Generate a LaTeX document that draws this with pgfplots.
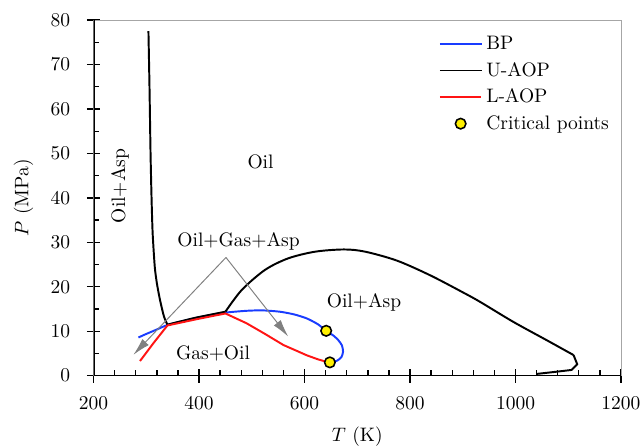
\documentclass[border=0pt]{standalone}
\usepackage{pgfplots}
\pgfplotsset{compat=1.18}
\usetikzlibrary{arrows.meta}
\definecolor{bpblue}{RGB}{25,60,255}
\definecolor{laopred}{RGB}{255,20,20}
\definecolor{cpyellow}{RGB}{255,240,0}
\begin{document}
\begin{tikzpicture}
\useasboundingbox (-48pt,-37pt) rectangle (282.3pt,192.7pt);
\begin{axis}[
  at={(0,0)}, anchor=south west,
  scale only axis, width=270.5pt, height=182.4pt,
  xmin=200, xmax=1200, ymin=0, ymax=80,
  xtick={200,400,...,1200}, ytick={0,10,...,80},
  minor x tick num=4, minor y tick num=1,
  xtick pos=bottom, ytick pos=left,
  tick align=center,
  major tick length=7pt, minor tick length=2.7pt,
  minor x tick style={yshift=1.35pt},
  minor y tick style={xshift=1.35pt},
  tick style={black, line width=0.7pt},
  axis line style={gray!70, line width=0.5pt},
  /pgf/number format/set thousands separator={},
  xticklabel style={yshift=-4pt},
  yticklabel style={xshift=-5pt},
  xlabel={$T$ (K)}, ylabel={$P$ (MPa)},
  every axis x label/.style={at={([yshift=-31pt]axis description cs:0.5,0)}, anchor=center},
  every axis y label/.style={at={([xshift=-36pt]axis description cs:0,0.5)}, rotate=90, anchor=center},
  legend style={draw=none, fill=none, at={(1,1)}, anchor=north east, xshift=-1pt, yshift=-4pt, row sep=1pt},
  legend cell align=left,
  legend image code/.code={\draw[mark repeat=2,mark phase=2,#1] plot coordinates {(0cm,0cm) (0.375cm,0cm) (0.75cm,0cm)};},
]
\addplot[bpblue, line width=1pt, smooth, tension=0.4] coordinates {
(285,8.6) (300,9.4) (320,10.4) (340,11.4) (380,12.6) (420,13.6) (450,14.2)
(490,14.6) (520,14.7) (553,14.4) (580,13.8) (604,12.9) (625,11.6) (641,10.1)
(655,9.0) (664,8.0) (671,6.8) (673,5.4) (670,4.2) (662,3.4) (648,3.0)};
\addlegendentry{BP}
\addplot[black, line width=1pt, smooth, tension=0.4] coordinates {
(304,77.5) (306,65) (308,50) (310,39.5) (312,32) (316,24.5) (320,20.8) (326,17)
(333.5,13.3) (340,11.5)};
\addlegendentry{U-AOP}
\addplot[black, line width=1pt, forget plot] coordinates {
(340,11.5) (395,13.1) (450,14.4)};
\addplot[black, line width=1pt, smooth, tension=0.5, forget plot] coordinates {
(450,14.4) (481,19.3) (525,23.8) (569,26.4) (620,27.9) (675,28.4)
(715,27.9) (775,25.9) (838,22.6) (901,18.7) (933,16.6)
(996,12.1) (1059,8.0) (1110,4.65)};
\addplot[black, line width=1pt, forget plot] coordinates {
(1110,4.65) (1117,2.6) (1106.5,1.3) (1078,0.9) (1040,0.4)};
\addplot[laopred, line width=1pt] coordinates {
(288,3.3) (314,7.4) (340,11.3) (395,12.7) (450,14.0) (490,11.8) (525,9.4)
(560,6.9) (585,5.6) (604,4.6) (625,3.7) (648,2.9)};
\addlegendentry{L-AOP}
\addplot[only marks, mark=*, mark size=2.7pt, mark options={fill=cpyellow, draw=black, line width=0.8pt}] coordinates {
(641,10.1) (648,3.0)};
\addlegendentry{Critical points}
\draw[black, line width=1pt] (rel axis cs:0,1) -- (rel axis cs:0,0) -- (rel axis cs:1,0);
\draw[gray, line width=0.5pt, -{Latex[length=9pt,width=4.5pt]}] (axis cs:451,26.6) -- (axis cs:275.5,4.7);
\draw[gray, line width=0.5pt, -{Latex[length=9pt,width=4.5pt]}] (axis cs:451,26.6) -- (axis cs:569,8.8);
\node at (axis cs:516.6,48.2) {Oil};
\node[rotate=90] at (axis cs:250,42.7) {Oil+Asp};
\node at (axis cs:474.9,30.3) {Oil+Gas+Asp};
\node at (axis cs:426.5,4.9) {Gas+Oil};
\node at (axis cs:712.8,16.6) {Oil+Asp};
\end{axis}
\end{tikzpicture}
\end{document}
